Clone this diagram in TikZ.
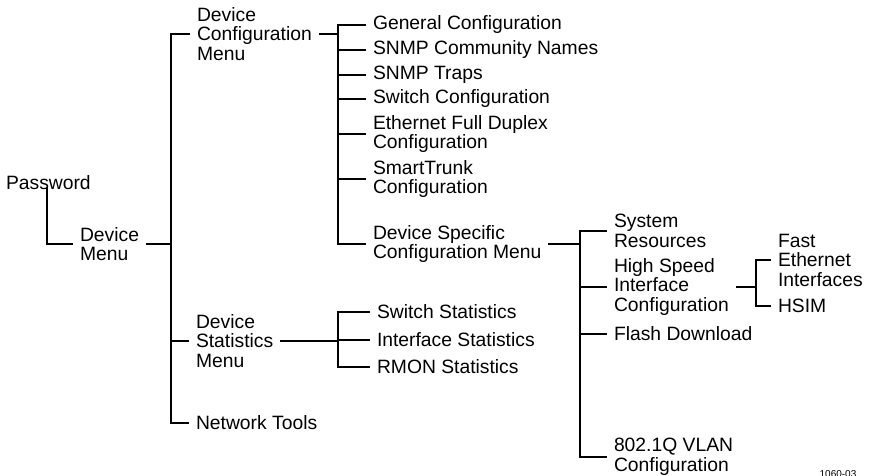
\documentclass[tikz,border=0pt]{standalone}
\usepackage{fontspec}
\setmainfont{Liberation Sans}
\usepackage{tikz}
\newcommand{\menufont}{\fontsize{19.3}{19.5}\selectfont}
\tikzset{
  item/.style={anchor=west, align=left, inner sep=0pt, outer xsep=7pt, font=\menufont},
  link/.style={line width=1.6pt, line join=miter}
}

\begin{document}
\begin{tikzpicture}[x=1pt, y=-1pt]
        \useasboundingbox (0,0) rectangle (872,475);

        % first and second level
        \node[item] (pwd) at (-1,183) {Password};
        \node[item] (devmenu) at (73,244) {Device\\Menu};
        \node[item] (devcfg) at (190,34) {Device\\Configuration\\Menu};
        \node[item] (devstat) at (189,341) {Device\\Statistics\\Menu};
        \node[item] (nettools) at (189,423) {Network Tools};

        % configuration menu
        \node[item] (general) at (366,25) {General Configuration};
        \node[item] (community) at (366,50) {SNMP Community Names};
        \node[item] (traps) at (366,75) {SNMP Traps};
        \node[item] (switchcfg) at (366,99) {Switch Configuration};
        \node[item] (duplex) at (366,134) {Ethernet Full Duplex\\Configuration};
        \node[item] (trunk) at (366,179) {SmartTrunk\\Configuration};
        \node[item] (specific) at (366,244) {Device Specific\\Configuration Menu};

        % statistics menu
        \node[item] (swstat) at (370,312) {Switch Statistics};
        \node[item] (ifstat) at (370,340) {Interface Statistics};
        \node[item] (rmon) at (370,367) {RMON Statistics};

        % device specific menu
        \node[item] (sysres) at (607,231) {System\\Resources};
        \node[item] (highspeed) at (607,287) {High Speed\\Interface\\Configuration};
        \node[item] (flash) at (607,334) {Flash Download};
        \node[item] (vlan) at (607,457) {802.1Q VLAN\\Configuration};
        \node[item] (fasteth) at (771,260) {Fast\\Ethernet\\Interfaces};
        \node[item] (hsim) at (771,306) {HSIM};

        \node[font=\fontsize{10}{11}\selectfont, anchor=north, inner sep=0pt] (fignum) at (838,470) {1060-03};

        % branch points
        \coordinate (bus1) at (171,0);
        \coordinate (bus2) at (338,0);
        \coordinate (bus3) at (338,0);
        \coordinate (bus4) at (580,0);
        \coordinate (bus5) at (756,0);

        \draw[link] ([xshift=48pt,yshift=3pt]pwd.south west) |- (devmenu.west);

        \draw[link] (devmenu.east) -- (devmenu.east -| bus1);
        \draw[link] (devcfg.west) -| (bus1 |- nettools.west) -- (nettools.west);
        \draw[link] (bus1 |- devstat.west) -- (devstat.west);

        \draw[link] (devcfg.east) -- (devcfg.east -| bus2);
        \draw[link] (general.west) -| (bus2 |- specific.west) -- (specific.west);
        \foreach \n in {community,traps,switchcfg,duplex,trunk}
            \draw[link] (bus2 |- \n.west) -- (\n.west);

        \draw[link] (devstat.east) -- (devstat.east -| bus3);
        \draw[link] (swstat.west) -| (bus3 |- rmon.west) -- (rmon.west);
        \draw[link] (bus3 |- ifstat.west) -- (ifstat.west);

        \draw[link] (specific.east) -- (specific.east -| bus4);
        \draw[link] (sysres.west) -| (bus4 |- vlan.west) -- (vlan.west);
        \foreach \n in {highspeed,flash}
            \draw[link] (bus4 |- \n.west) -- (\n.west);

        \draw[link] (highspeed.east) -- (highspeed.east -| bus5);
        \draw[link] (fasteth.west) -| (bus5 |- hsim.west) -- (hsim.west);
    \end{tikzpicture}
\end{document}
